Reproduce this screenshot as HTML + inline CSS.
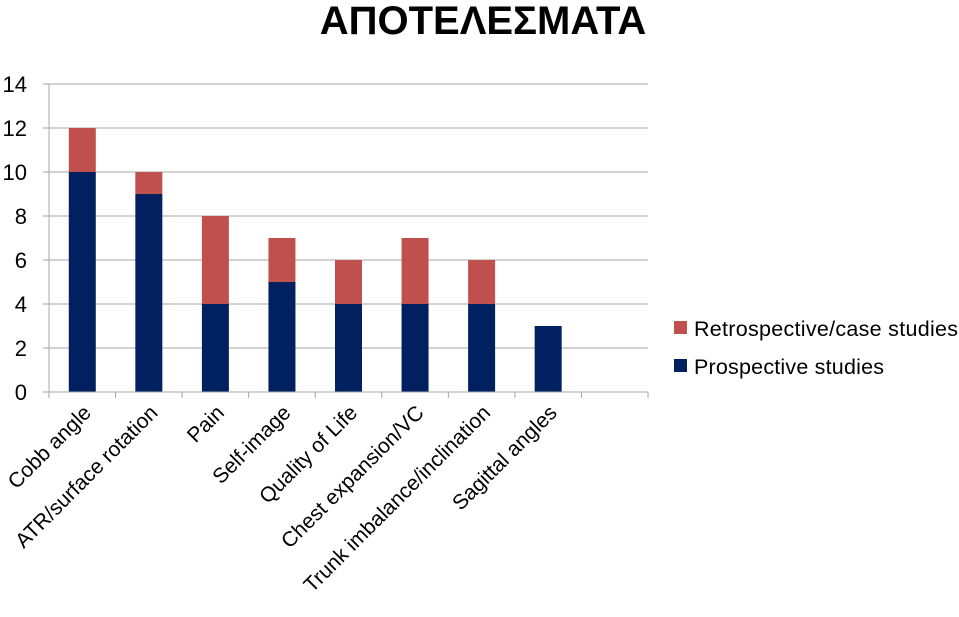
<!DOCTYPE html>
<html><head><meta charset="utf-8"><style>body{margin:0;background:#fff}svg{display:block}text{font-family:"Liberation Sans",sans-serif}</style></head>
<body>
<svg id="c" width="959" height="617">
<text x="483" y="34" text-anchor="middle" font-size="40" font-weight="bold" fill="#000">ΑΠΟΤΕΛΕΣΜΑΤΑ</text>
<g id="grid"></g><g id="bars"></g><g id="axes"></g>
<g>
<rect x="674" y="321" width="13" height="13" fill="#c0504d"/>
<text x="694" y="336" font-size="21.5" textLength="264" fill="#000">Retrospective/case studies</text>
<rect x="674" y="359" width="13" height="13" fill="#002060"/>
<text x="694" y="374" font-size="21.5" textLength="190" fill="#000">Prospective studies</text>
</g>
</svg>
<script>
const categories=["Cobb angle","ATR/surface rotation","Pain","Self-image","Quality of Life","Chest expansion/VC","Trunk imbalance/inclination","Sagittal angles",""];
const prospective=[10,9,4,5,4,4,4,3,0];
const retrospective=[2,1,4,2,2,3,2,0,0];
const yTicks=[0,2,4,6,8,10,12,14];
const NS="http://www.w3.org/2000/svg";
const x0=49,x1=648,y0=392,yTop=84,yMax=14;
const slot=(x1-x0)/categories.length,bw=27;
const y=v=>y0-(v/yMax)*(y0-yTop);
const xc=i=>x0+slot*(i+0.5);
function mk(t,a,p){const e=document.createElementNS(NS,t);for(const k in a)e.setAttribute(k,a[k]);p.appendChild(e);return e;}
const grid=document.getElementById('grid'),bars=document.getElementById('bars'),axes=document.getElementById('axes');
yTicks.forEach(v=>{
 if(v>0){const g=mk('line',{x1:x0,x2:x1,y1:y(v),y2:y(v),stroke:'#a6a6a6','stroke-width':1},grid);
 
 }
 const tk=mk('line',{x1:x0-6,x2:x0,y1:y(v),y2:y(v),stroke:'#a6a6a6'},axes);
 
 
 const t=mk('text',{x:27,y:y(v)+8,'text-anchor':'end','font-size':22,fill:'#000'},axes);t.textContent=v;
 
 
});
let a=mk('line',{x1:x0,x2:x0,y1:yTop,y2:y0,stroke:'#a6a6a6'},axes);


a=mk('line',{x1:x0,x2:x1,y1:y0,y2:y0,stroke:'#a6a6a6'},axes);


for(let i=0;i<=categories.length;i++){const t=mk('line',{x1:x0+slot*i,x2:x0+slot*i,y1:y0,y2:y0+6,stroke:'#a6a6a6'},axes);
 
 }
categories.forEach((c,i)=>{
 const cx=xc(i);
 if(prospective[i]>0){const r=mk('rect',{x:cx-bw/2,y:y(prospective[i]),width:bw,height:y0-y(prospective[i]),fill:'#002060'},bars);
 
 }
 if(retrospective[i]>0){const top=prospective[i]+retrospective[i];const r=mk('rect',{x:cx-bw/2,y:y(top),width:bw,height:y(prospective[i])-y(top),fill:'#c0504d'},bars);
 
 }
 if(c){const px=cx+10,py=y0+22;const t=mk('text',{x:px,y:py,'text-anchor':'end','font-size':21,fill:'#000',transform:`rotate(-45 ${px} ${py})`},axes);t.textContent=c;
 
 }
});
</script>
</body></html>
